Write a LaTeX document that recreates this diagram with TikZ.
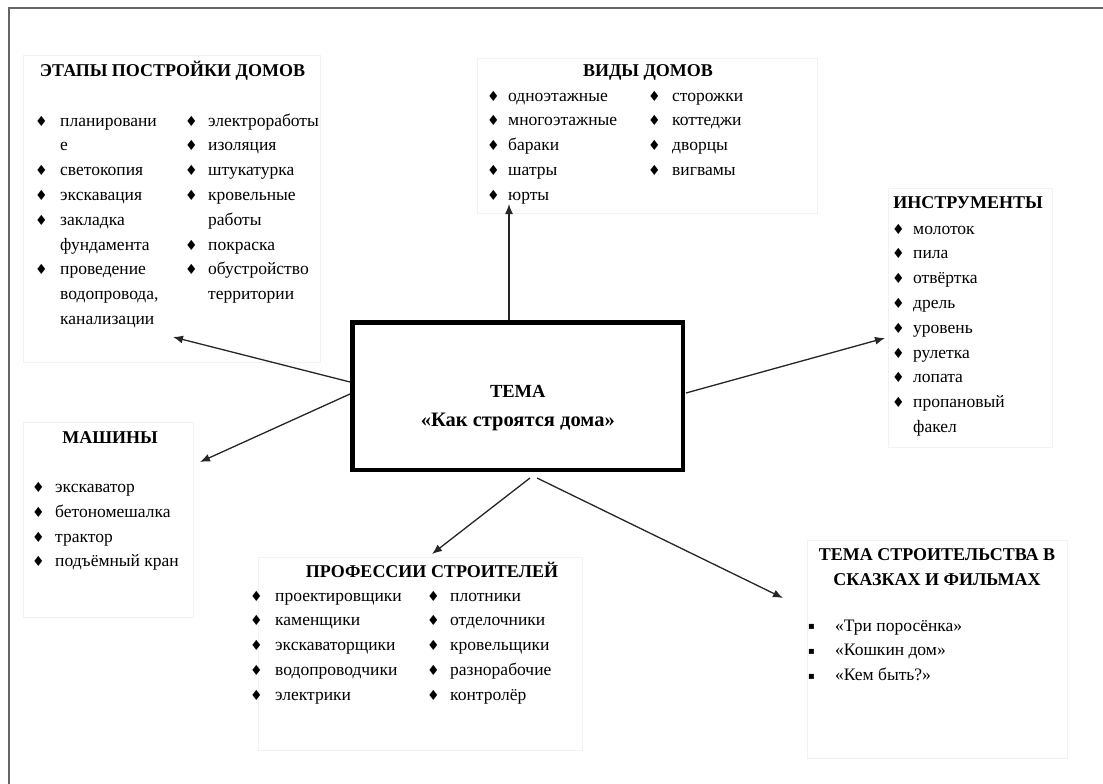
\documentclass[tikz,border=0pt]{standalone}
\usepackage{fontspec}
\setmainfont{Liberation Serif}
\newfontfamily\symf{DejaVu Sans}
\usetikzlibrary{arrows.meta}
\newcommand{\bl}{{\symf\fontsize{14}{14}\selectfont ♦}}
\newcommand{\sqb}{{\symf\fontsize{10}{10}\selectfont\raisebox{1.5pt}{▪}}}
\newcommand{\blist}[2]{\begin{tabular}[t]{@{}p{#1}@{}l@{}}#2\end{tabular}}
\tikzset{
 fbox/.style={draw=black!5, line width=0.8pt, inner sep=0pt},
 hd/.style={inner sep=0pt, anchor=base, font=\bfseries\fontsize{18}{25}\selectfont},
 lst/.style={inner sep=0pt, anchor=base west, font=\fontsize{17.5}{24.8}\selectfont},
 arr/.style={draw=black!85, fill=black!85, line width=1.3pt, -{Latex[length=10pt,width=8pt]}},
 mainbox/.style={draw=black, line width=4.5pt, inner sep=0pt, font=\bfseries\fontsize{18.5}{29}\selectfont}
}
\begin{document}
\begin{tikzpicture}[x=1pt,y=-1pt]
\useasboundingbox (0,0) rectangle (1103,784);
% outer frame
\draw[black!60, line width=2pt] (9,784) -- (9,8) -- (1103,8);

% faint text boxes
\node[fbox, minimum width=297, minimum height=307] (bE) at (171.5,208.5) {};
\node[fbox, minimum width=340, minimum height=155] (bV) at (647,135.5) {};
\node[fbox, minimum width=164, minimum height=259] (bI) at (970,317.5) {};
\node[fbox, minimum width=170, minimum height=195] (bM) at (108,519.5) {};
\node[fbox, minimum width=324, minimum height=193] (bP) at (420,653.5) {};
\node[fbox, minimum width=260, minimum height=218] (bT) at (937,649) {};

% central box
\node[mainbox, minimum width=330.5, minimum height=147.5] (c) at (517.75,396.25)
 {\begin{tabular}{@{}c@{}}\rule{0pt}{40pt}ТЕМА\\{\fontsize{20.5}{29}\selectfont «Как строятся дома»}\end{tabular}};

% ЭТАПЫ
\node[hd] (eH) at (172.5,77) {ЭТАПЫ ПОСТРОЙКИ ДОМОВ};
\node[lst] (eL) at (35,126) {\blist{25pt}{\bl & планировани\\ & е\\ \bl & светокопия\\ \bl & экскавация\\ \bl & закладка\\ & фундамента\\ \bl & проведение\\ & водопровода,\\ & канализации}};
\node[lst] (eR) at (185,126) {\blist{23pt}{\bl & электроработы\\ \bl & изоляция\\ \bl & штукатурка\\ \bl & кровельные\\ & работы\\ \bl & покраска\\ \bl & обустройство\\ & территории}};

% ВИДЫ ДОМОВ
\node[hd] (vH) at (648,77) {ВИДЫ ДОМОВ};
\node[lst] (vL) at (487,101) {\blist{21pt}{\bl & одноэтажные\\ \bl & многоэтажные\\ \bl & бараки\\ \bl & шатры\\ \bl & юрты}};
\node[lst] (vR) at (648,101) {\blist{24pt}{\bl & сторожки\\ \bl & коттеджи\\ \bl & дворцы\\ \bl & вигвамы}};

% ИНСТРУМЕНТЫ
\node[hd] (iH) at (968,208) {ИНСТРУМЕНТЫ};
\node[lst] (iL) at (892,234) {\blist{21pt}{\bl & молоток\\ \bl & пила\\ \bl & отвёртка\\ \bl & дрель\\ \bl & уровень\\ \bl & рулетка\\ \bl & лопата\\ \bl & пропановый\\ & факел}};

% МАШИНЫ
\node[hd] (mH) at (110,443) {МАШИНЫ};
\node[lst] (mL) at (32,492.5) {\blist{23pt}{\bl & экскаватор\\ \bl & бетономешалка\\ \bl & трактор\\ \bl & подъёмный кран}};

% ПРОФЕССИИ
\node[hd] (pH) at (432,577) {ПРОФЕССИИ СТРОИТЕЛЕЙ};
\node[lst] (pL) at (250,601) {\blist{25pt}{\bl & проектировщики\\ \bl & каменщики\\ \bl & экскаваторщики\\ \bl & водопроводчики\\ \bl & электрики}};
\node[lst] (pR) at (427,601) {\blist{23pt}{\bl & плотники\\ \bl & отделочники\\ \bl & кровельщики\\ \bl & разнорабочие\\ \bl & контролёр}};

% ТЕМА СТРОИТЕЛЬСТВА
\node[hd] (tH) at (937,560) {\begin{tabular}[t]{@{}c@{}}ТЕМА СТРОИТЕЛЬСТВА В\\СКАЗКАХ И ФИЛЬМАХ\end{tabular}};
\node[lst] (tL) at (808,631) {\blist{27pt}{\sqb & «Три поросёнка»\\ \sqb & «Кошкин дом»\\ \sqb & «Кем быть?»}};

% connector ends
\coordinate (sV) at (509,320);
\coordinate (tV) at (509,204);
\coordinate (sE) at (350,382);
\coordinate (tE) at (173,337);
\coordinate (sM) at (350,394);
\coordinate (tM) at (200,462);
\coordinate (sI) at (686,393);
\coordinate (tI) at (885,338);
\coordinate (sP) at (530,478);
\coordinate (tP) at (432,554);
\coordinate (sT) at (537,478);
\coordinate (tT) at (783,598);

\draw[arr] (sV) -- (tV);
\draw[arr] (sE) -- (tE);
\draw[arr] (sM) -- (tM);
\draw[arr] (sI) -- (tI);
\draw[arr] (sP) -- (tP);
\draw[arr] (sT) -- (tT);
\end{tikzpicture}
\end{document}
